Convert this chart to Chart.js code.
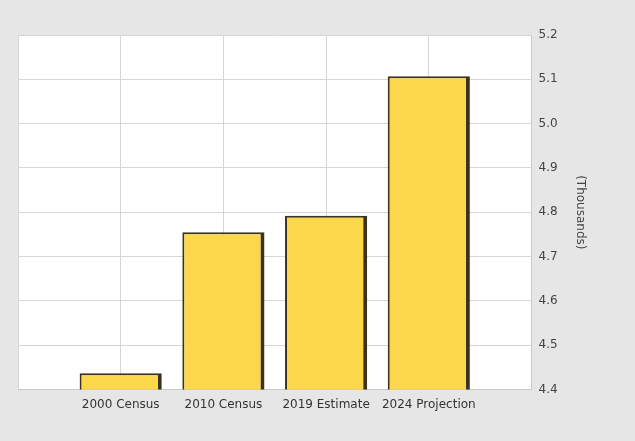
<!DOCTYPE html>
<html>
<head>
<meta charset="utf-8">
<script src="https://cdn.jsdelivr.net/npm/chart.js@4/dist/chart.umd.min.js"></script>
<style>
  body { margin: 0; background: #e6e6e6; }
  canvas { display: block; }
</style>
</head>
<body>
<canvas id="popChart" width="635" height="441"></canvas>
<script>
const categories = ['2000 Census', '2010 Census', '2019 Estimate', '2024 Projection'];
const population = [4.437, 4.755, 4.792, 5.107]; // thousands
const yTicks = [4.4, 4.5, 4.6, 4.7, 4.8, 4.9, 5.0, 5.1, 5.2];

// one empty slot each side so bars sit on the inner gridlines
const labels = [''].concat(categories, ['']);
const values = [null].concat(population, [null]);

// white plot area
const plotBg = {
    id: 'plotBg',
    beforeDraw(chart) {
        const a = chart.chartArea;
        const ctx = chart.ctx;
        ctx.save();
        ctx.fillStyle = '#ffffff';
        ctx.fillRect(a.left, a.top, a.right - a.left, a.bottom - a.top);
        ctx.restore();
    }
};

Chart.defaults.font.family = '"DejaVu Sans", Verdana, sans-serif';
Chart.defaults.font.size = 12;

new Chart(document.getElementById('popChart').getContext('2d'), {
    type: 'bar',
    data: {
        labels: labels,
        datasets: [{
            data: values,
            backgroundColor: '#fcd64b',
            borderColor: '#3b3320',
            borderWidth: { top: 2, left: 2, right: 4, bottom: 3 },
            borderSkipped: false,
            categoryPercentage: 1,
            barPercentage: 0.8
        }]
    },
    options: {
        responsive: false,
        devicePixelRatio: 1,
        animation: false,
        layout: { padding: { left: 18, top: 35, right: 16, bottom: 21 } },
        plugins: {
            legend: { display: false },
            tooltip: { enabled: false }
        },
        scales: {
            x: {
                offset: false,
                grid: { color: '#d6d6d6', drawTicks: false, offset: false },
                border: { color: '#c8c8c8' },
                ticks: { color: '#333333', padding: 8, maxRotation: 0, autoSkip: false }
            },
            y: {
                position: 'right',
                min: yTicks[0],
                max: yTicks[yTicks.length - 1],
                afterBuildTicks: axis => { axis.ticks = yTicks.map(v => ({ value: v })); },
                grid: { color: '#d6d6d6', drawTicks: false },
                border: { color: '#c8c8c8' },
                ticks: { color: '#444444', padding: 7, callback: v => Number(v).toFixed(1) },
                title: { display: true, text: '(Thousands)', color: '#444444', padding: { top: 32, bottom: 8 } }
            }
        }
    },
    plugins: [plotBg]
});
</script>
</body>
</html>
